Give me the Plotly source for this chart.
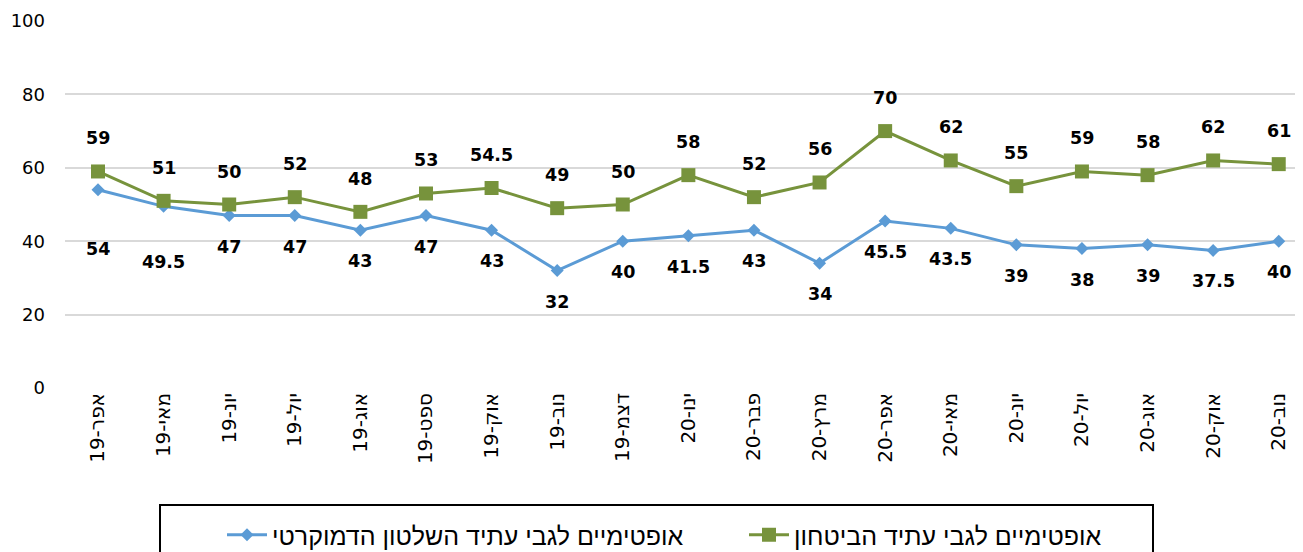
import plotly.graph_objects as go

# ---------------- data ----------------
months = ["אפר-19", "מאי-19", "יונ-19", "יול-19", "אוג-19", "ספט-19", "אוק-19",
          "נוב-19", "דצמ-19", "ינו-20", "פבר-20", "מרץ-20", "אפר-20", "מאי-20",
          "יונ-20", "יול-20", "אוג-20", "אוק-20", "נוב-20"]
security = [59, 51, 50, 52, 48, 53, 54.5, 49, 50, 58, 52, 56, 70, 62, 55, 59, 58, 62, 61]
democracy = [54, 49.5, 47, 47, 43, 47, 43, 32, 40, 41.5, 43, 34, 45.5, 43.5, 39, 38, 39, 37.5, 40]
name_security = "אופטימיים לגבי עתיד הביטחון"
name_democracy = "אופטימיים לגבי עתיד השלטון הדמוקרטי"
y_ticks = [0, 20, 40, 60, 80, 100]

# ---------------- style ----------------
GREEN = "#77933C"
BLUE = "#5B9BD5"
GRID = "#D9D9D9"
LABEL_FONT = dict(family="DejaVu Sans", size=17.5, color="black", weight="bold")
green_shift = 33
blue_shift = [-59, -56] + [-31] * (len(democracy) - 2)

OFF = 8  # page body margin of the browser
W, H = 1303 - OFF, 552 - OFF
ML, MR, MT = 65 - OFF, 0, 21 - OFF
MB = H - (388 - OFF)
pw = W - ML - MR
ph = H - MT - MB

def px_x(px):
    return (px - OFF - ML) / pw

def px_y(py):
    return (H - MB - (py - OFF)) / ph

fig = go.Figure()
fig.add_trace(go.Scatter(
    x=months, y=democracy, name=name_democracy, mode="lines+markers",
    line=dict(color=BLUE, width=3),
    marker=dict(symbol="diamond", size=10, color=BLUE),
))
fig.add_trace(go.Scatter(
    x=months, y=security, name=name_security, mode="lines+markers",
    line=dict(color=GREEN, width=3),
    marker=dict(symbol="square", size=14, color=GREEN),
))

for i, (m, v) in enumerate(zip(months, security)):
    fig.add_annotation(x=m, y=v, text=f"{v:g}", showarrow=False,
                       yshift=green_shift, font=LABEL_FONT)
for i, (m, v) in enumerate(zip(months, democracy)):
    fig.add_annotation(x=m, y=v, text=f"{v:g}", showarrow=False,
                       yshift=blue_shift[i], font=LABEL_FONT)

# legend frame
fig.add_shape(type="rect", xref="paper", yref="paper",
              x0=px_x(160), x1=px_x(1153), y0=px_y(570), y1=px_y(505),
              line=dict(color="black", width=2), fillcolor="rgba(0,0,0,0)")

fig.update_layout(
    width=W, height=H,
    margin=dict(l=ML, r=MR, t=MT, b=MB, autoexpand=False),
    plot_bgcolor="white", paper_bgcolor="white",
    showlegend=True,
    legend=dict(orientation="h", x=px_x(222), y=px_y(535), xanchor="left", yanchor="middle",
                font=dict(family="Liberation Sans", size=25, color="black"),
                bgcolor="rgba(0,0,0,0)", entrywidth=467, entrywidthmode="pixels",
                itemwidth=40),
    xaxis=dict(type="category", range=[-0.503, 18.37], tickangle=-90,
               tickfont=dict(family="DejaVu Sans", size=20, color="black"),
               showgrid=False, showline=False, zeroline=False, ticks=""),
    yaxis=dict(range=[0, 100], tickvals=y_ticks, showgrid=True, gridcolor=GRID, gridwidth=2,
               zeroline=False, showline=False, ticks="", ticklabelstandoff=19,
               tickfont=dict(family="DejaVu Sans", size=18, color="black")),
)

fig.write_html("out.html")
